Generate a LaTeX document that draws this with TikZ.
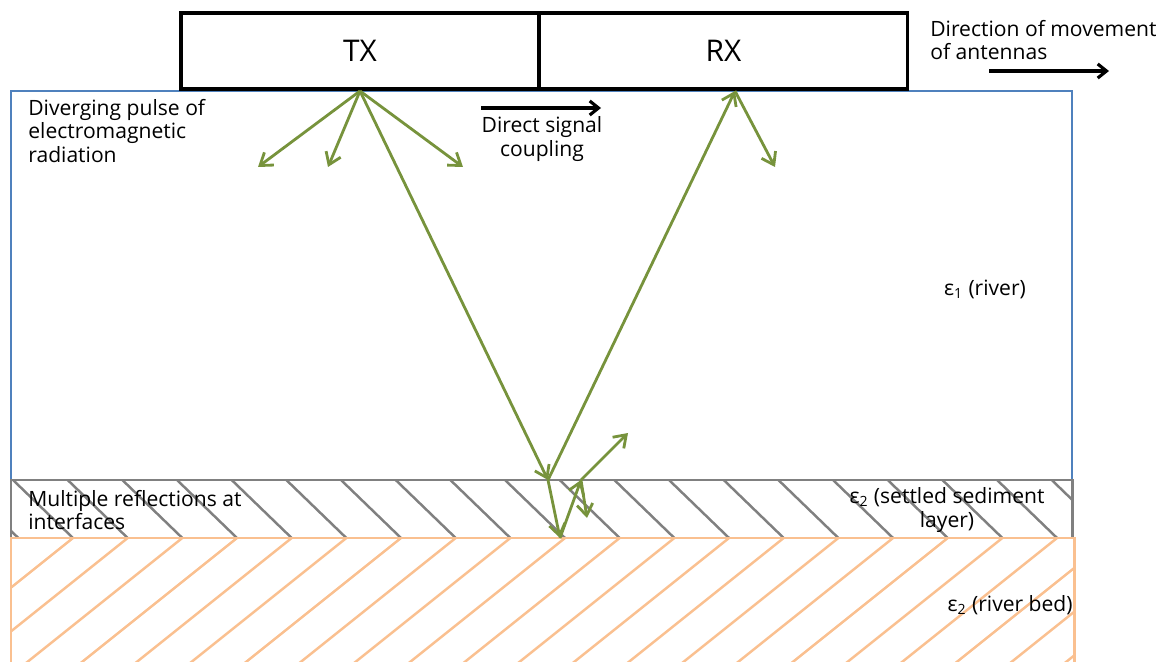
\documentclass[tikz,border=0pt]{standalone}
\usepackage{fontspec}
\setmainfont{Open Sans}
\usetikzlibrary{positioning,arrows.meta,calc}
\definecolor{riverblue}{HTML}{4F81BD}
\definecolor{wavegreen}{HTML}{77933C}
\definecolor{sedgray}{HTML}{808080}
\definecolor{bedorange}{HTML}{FAC090}
\definecolor{ink}{HTML}{000000}
\newcommand{\lbl}{\fontsize{12pt}{13.3pt}\selectfont}
\tikzset{
  ant/.style={draw=black, line width=1.8pt, fill=white, outer sep=0pt,
    minimum height=1.52cm, font=\fontsize{17pt}{20pt}\selectfont},
  wave/.style={-{Straight Barb[length=6.5pt,width=9pt]}, line width=1.6pt, color=wavegreen},
  move/.style={-{Straight Barb[length=5pt,width=8pt]}, line width=1.8pt, color=black},
  lab/.style={font=\lbl, text=ink, inner sep=0pt},
  hatchs/.style={sedgray, line width=1.4pt},
  hatchb/.style={bedorange, line width=1.4pt},
}

\begin{document}
\begin{tikzpicture}[x=0.02cm, y=-0.02cm]
  \useasboundingbox (0,0) rectangle (1164,662);
  % river, sediment and bed
  \draw[riverblue, line width=1.5pt] (11,480) -- (11,91) -- (1072,91) -- (1072,480);
  \begin{scope}
    \clip (11,480) rectangle (1072,538);
    \foreach \i in {-1,...,19} \draw[hatchs] ({13+54.67*\i},480) -- ++(60,58);
  \end{scope}
  \begin{scope}
    \clip (11,538) rectangle (1074,680);
    \foreach \i in {0,...,24} \draw[hatchb] ({73+54.67*\i},538) -- ++(-200,160);
  \end{scope}
  \draw[sedgray, line width=1.7pt] (11,480) rectangle (1072,538);
  \draw[bedorange, line width=1.7pt] (11,680) -- (11,538) -- (1074,538) -- (1074,680);

  % antennas
  \node[ant, minimum width=7.16cm] (tx) at (360,51) {TX};
  \node[ant, minimum width=7.38cm, right=0pt of tx] (rx) {RX};

  % ray paths
  \coordinate (src) at (360,91);
  \coordinate (rxin) at (735,91);
  \coordinate (hit1) at (548,480);
  \coordinate (hit2) at (581,480);
  \coordinate (bed) at (560,538);
  \coordinate (d1) at (258,167);
  \coordinate (d2) at (328,167);
  \coordinate (d3) at (463,167);
  \coordinate (up) at (628,433);
  \coordinate (dn) at (587,518);
  \coordinate (rxout) at (775,167);
  \foreach \t in {d1,d2,d3} \draw[wave] (src) -- (\t);
  \foreach \i/\j in {src/hit1,hit1/bed,bed/hit2,hit2/up,hit2/dn,hit1/rxin,rxin/rxout}
    \draw[wave] (\i) -- (\j);

  % labels
  \node[lab, align=left, anchor=west] (pulse) at (28,131) {Diverging pulse of\\electromagnetic\\radiation};
  \node[lab, align=center] (coupling) at (542,139) {Direct signal\\coupling};
  \coordinate (cpl-a) at (481,108);
  \coordinate (cpl-b) at (601,108);
  \draw[move] (cpl-a) -- (cpl-b);
  \node[lab, align=left, anchor=west] (motion) at (930,40) {Direction of movement\\of antennas};
  \coordinate (mv-a) at (989,71);
  \coordinate (mv-b) at (1109,71);
  \draw[move] (mv-a) -- (mv-b);
  \node[lab] (eps1) at (985,289) {ε\textsubscript{1} (river)};
  \node[lab, align=left, anchor=west] (multi) at (28,510) {Multiple reflections at\\interfaces};
  \node[lab, align=center] (sed) at (947,510) {ε\textsubscript{2} (settled sediment\\layer)};
  \node[lab, anchor=east] (bedlbl) at (1073,605) {ε\textsubscript{2} (river bed)};
\end{tikzpicture}
\end{document}
